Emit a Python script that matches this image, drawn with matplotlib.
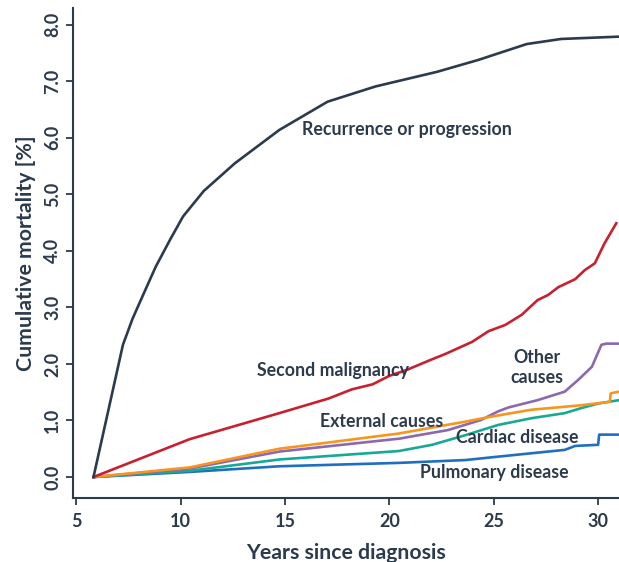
import matplotlib
matplotlib.use("Agg")
import matplotlib.pyplot as plt

# Cumulative mortality [%] by cause
recur_x = [5.83, 7.24, 7.7, 8.3, 8.81, 9.5, 10.12, 11.11, 12.6, 14.73, 17.04, 19.34, 22.3, 24.27, 26.58, 28.23, 30.94]
recur_y = [0.0, 2.34, 2.8, 3.3, 3.72, 4.2, 4.61, 5.06, 5.55, 6.14, 6.64, 6.91, 7.17, 7.38, 7.66, 7.75, 7.79]

second_x = [5.83, 10.44, 14.73, 17.1, 18.2, 19.2, 20.0, 20.8, 21.9, 22.7, 23.96, 24.75, 25.55, 26.34, 27.1, 27.6, 28.1, 28.9, 29.36, 29.84, 30.3, 30.87]
second_y = [0.0, 0.67, 1.13, 1.39, 1.55, 1.64, 1.79, 1.89, 2.06, 2.18, 2.39, 2.58, 2.69, 2.87, 3.13, 3.22, 3.36, 3.50, 3.66, 3.78, 4.13, 4.49]

other_x = [5.83, 10.44, 14.73, 20.5, 21.25, 22.8, 24.4, 25.2, 25.7, 27.1, 28.4, 29.05, 29.7, 30.16, 30.4, 31.0]
other_y = [0.0, 0.15, 0.45, 0.68, 0.73, 0.83, 1.01, 1.16, 1.23, 1.36, 1.51, 1.72, 1.95, 2.34, 2.36, 2.36]

external_x = [5.83, 10.44, 14.73, 20.46, 23.64, 24.9, 26.8, 29.2, 30.56, 30.6, 31.0]
external_y = [0.0, 0.17, 0.50, 0.77, 0.98, 1.07, 1.19, 1.27, 1.33, 1.48, 1.51]

cardiac_x = [5.83, 10.44, 14.73, 20.46, 22.05, 23.64, 25.2, 26.8, 28.4, 29.2, 30.0, 31.0]
cardiac_y = [0.0, 0.11, 0.31, 0.46, 0.57, 0.74, 0.92, 1.04, 1.13, 1.22, 1.30, 1.36]

pulm_x = [5.83, 10.44, 14.73, 20.46, 23.64, 25.2, 26.8, 28.4, 28.9, 30.0, 30.05, 31.0]
pulm_y = [0.0, 0.09, 0.19, 0.25, 0.30, 0.36, 0.42, 0.48, 0.55, 0.57, 0.75, 0.75]

navy = "#2c3a4d"
series = [
    (pulm_x, pulm_y, "#1f6fbe"),
    (cardiac_x, cardiac_y, "#17a898"),
    (other_x, other_y, "#8d67b1"),
    (external_x, external_y, "#f6961f"),
    (second_x, second_y, "#c8202f"),
    (recur_x, recur_y, navy),
]

labels = [
    ("Recurrence or progression", 20.85, 6.14),
    ("Second malignancy", 17.28, 1.89),
    ("Other\ncauses", 27.06, 1.94),
    ("External causes", 19.62, 0.98),
    ("Cardiac disease", 26.14, 0.70),
    ("Pulmonary disease", 25.03, 0.08),
]

plt.rcParams['font.family'] = ['Lato', 'DejaVu Sans']

fig = plt.figure(figsize=(6.19, 5.62), dpi=100)
ax = fig.add_axes([0.118, 0.114, 0.882, 0.872])

for xs, ys, c in series:
    ax.plot(xs, ys, color=c, linewidth=1.9, solid_joinstyle='round')

for text, x, y in labels:
    ax.text(x, y, text, color=navy, fontsize=12.8, fontweight='bold',
            ha='center', va='center', linespacing=1.25)

ax.set_xlim(4.85, 31)
ax.set_ylim(-0.37, 8.3)
ax.set_xticks([5, 10, 15, 20, 25, 30])
ax.set_yticks([0, 1, 2, 3, 4, 5, 6, 7, 8])
ax.set_yticklabels([f"{v:.1f}" for v in range(9)], rotation=90, va='center')

for side in ['top', 'right']:
    ax.spines[side].set_visible(False)
for side in ['left', 'bottom']:
    ax.spines[side].set_color(navy)
    ax.spines[side].set_linewidth(1.5)

ax.tick_params(colors=navy, width=1.3, length=5, labelsize=13)
ax.tick_params(axis='x', pad=6)
for lab in ax.get_xticklabels() + ax.get_yticklabels():
    lab.set_fontweight('bold')

ax.set_xlabel("Years since diagnosis", color=navy, fontsize=15.3, fontweight='bold', labelpad=9)
ax.set_ylabel("Cumulative mortality [%]", color=navy, fontsize=15.3, fontweight='bold', labelpad=6)

fig.savefig("out.png", dpi=100)
